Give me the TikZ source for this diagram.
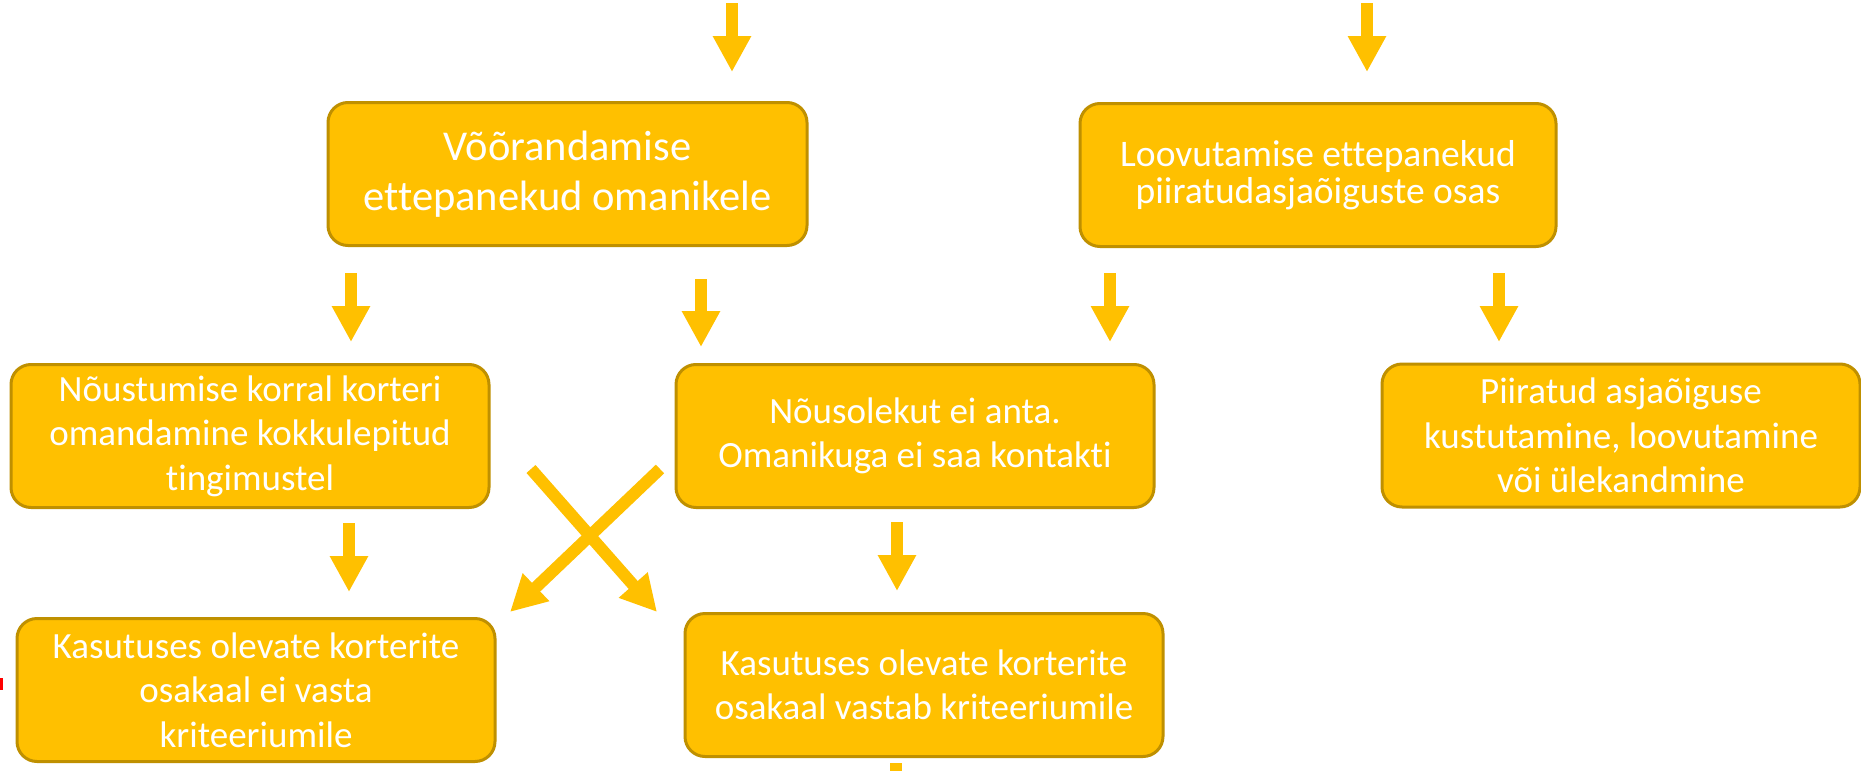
\documentclass[tikz,border=0pt]{standalone}
\usepackage{fontspec}
\setmainfont{Carlito}[Ligatures=NoCommon]
\usetikzlibrary{arrows.meta}
\definecolor{gold}{HTML}{FFC000}
\definecolor{golddark}{HTML}{BF9000}
\tikzset{
  box/.style={draw=golddark, fill=gold, line width=3pt, rounded corners=20pt,
    minimum width=478pt, minimum height=143pt, align=center, text=white,
    inner sep=0pt, font=\fontsize{37}{44.5}\selectfont},
  blk/.style={draw=gold, line width=12pt,
    -{Triangle[width=36pt,length=36pt]}, fill=gold},
}
\begin{document}
\begin{tikzpicture}[x=1pt,y=-1pt]
\useasboundingbox (0,0) rectangle (1861,771);
\fill[white] (0,0) rectangle (1861,771);
\node[box, minimum width=479pt, font=\fontsize{42.5}{50}\selectfont] (A) at (567.5,174) {Võõrandamise\\ettepanekud omanikele};
\node[box, minimum width=476pt, font=\fontsize{37.5}{37.5}\selectfont] (B) at (1318,175) {Loovutamise ettepanekud\\piiratudasjaõiguste osas};
\node[box] (C) at (250,436) {Nõustumise korral korteri\\omandamine kokkulepitud\\tingimustel};
\node[box] (D) at (915,436) {Nõusolekut ei anta.\\Omanikuga ei saa kontakti};
\node[box] (E) at (1621,435.5) {Piiratud asjaõiguse\\kustutamine, loovutamine\\või ülekandmine};
\node[box] (F) at (256,690) {Kasutuses olevate korterite\\osakaal ei vasta\\kriteeriumile};
\node[box] (G) at (924,685) {Kasutuses olevate korterite\\osakaal vastab kriteeriumile};
% arrow coordinates
\coordinate (t1s) at (732,3);   \coordinate (t1e) at (732,72);
\coordinate (t2s) at (1367,3);  \coordinate (t2e) at (1367,72);
\coordinate (a1s) at (351,273); \coordinate (a1e) at (351,342);
\coordinate (a2s) at (701,279); \coordinate (a2e) at (701,347);
\coordinate (b1s) at (1110,273);\coordinate (b1e) at (1110,342);
\coordinate (b2s) at (1499,273);\coordinate (b2e) at (1499,342);
\coordinate (c1s) at (349,523); \coordinate (c1e) at (349,592);
\coordinate (d1s) at (897,522); \coordinate (d1e) at (897,591);
\coordinate (x1s) at (531,469); \coordinate (x1e) at (657,612);
\coordinate (x2s) at (660,469); \coordinate (x2e) at (510,612);
\coordinate (g1s) at (896,763); \coordinate (g1e) at (896,771);
\draw[blk] (t1s) -- (t1e);
\draw[blk] (t2s) -- (t2e);
\draw[blk] (a1s) -- (a1e);
\draw[blk] (a2s) -- (a2e);
\draw[blk] (b1s) -- (b1e);
\draw[blk] (b2s) -- (b2e);
\draw[blk] (c1s) -- (c1e);
\draw[blk] (d1s) -- (d1e);
\draw[blk] (x1s) -- (x1e);
\draw[blk] (x2s) -- (x2e);
\draw[draw=gold, line width=12pt] (g1s) -- (g1e);
\fill[red] (0,678) rectangle (3,690);
\end{tikzpicture}
\end{document}
